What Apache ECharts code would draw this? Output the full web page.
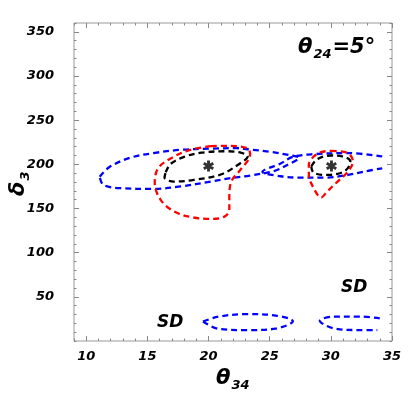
<!DOCTYPE html>
<html><head><meta charset="utf-8">
<script src="https://cdn.jsdelivr.net/npm/echarts@6/dist/echarts.min.js"></script>
<style>html,body{margin:0;padding:0;background:#fff}#c{width:409px;height:409px}</style>
</head><body><div id="c"></div>
<script>
var xTicks = [10, 15, 20, 25, 30, 35];
var yTicks = [50, 100, 150, 200, 250, 300, 350];

var blueLeft = [[11.1,186],[11.9,197],[13.6,207.5],[15.5,212.7],[17.7,216.4],[20.2,217.8],[22.3,218.3],[23.4,216.8],[25.1,214],[26.6,210.5],[27.4,207.5],[26.4,199],[25.4,192.6],[23.4,187.3],[21.8,184.3],[20.2,180.5],[17.7,175],[15.5,172.2],[12.8,173],[11.4,176.8],[11.1,186]];
var blueRight = [[34.2,209],[31.4,212.7],[28.6,211.5],[26.9,208.5],[25.9,201],[24.4,191.5],[25.9,186.5],[27.3,185],[29.5,185],[31.4,188],[32.7,191.8],[34.2,195.5]];
var blueSDLeft = [[19.55,22],[20.8,27.5],[23.1,30.5],[25.5,28.8],[26.9,22.5],[25.5,14],[23.1,12.3],[20.8,13.8],[19.55,22]];
var blueSDRight = [[34.0,25.7],[32.4,27.6],[30.2,27.5],[29.1,23],[30.2,14.4],[32.4,12.4],[33.8,12.4]];
var redLeft = [[20.2,220.5],[18.5,216.4],[17.2,209],[15.9,196],[15.6,179],[16.1,159.5],[17.2,146.5],[18.6,140.2],[20.2,138.3],[21.3,140.8],[21.7,148.3],[21.7,163.5],[21.75,174.8],[21.9,182],[22.6,193.8],[23.4,210.8],[23.2,218],[21.6,221],[20.2,220.5]];
var redRight = [[30.0,215.3],[31.4,212.7],[31.8,203.2],[31.4,191.8],[30.55,180.5],[29.7,169.2],[29.2,162.4],[28.6,173],[28.2,188],[28.2,199.4],[28.6,208.8],[29.2,213.8],[30.0,215.3]];
var blackLeft = [[16.5,191],[16.9,200.5],[18.0,208.5],[19.4,213.2],[21.5,214.8],[22.7,213],[23.2,208.8],[22.6,201.3],[21.0,188.5],[18.8,182.4],[17.15,180.5],[16.4,185],[16.5,191]];
var blackRight = [[28.4,197.5],[28.9,206],[30.0,210],[31.2,208],[31.6,203],[31.1,192],[29.7,188],[28.6,190.5],[28.4,197.5]];
var stars = [[20,198],[30.05,198]];

var chart = echarts.init(document.getElementById('c'), null, {renderer:'canvas'});
var lblFont = {fontFamily:'DejaVu Sans', fontWeight:'bold', fontStyle:'italic', fontSize:13, color:'#000'};
var tickColor = '#888';
function xAx(pos, major) {
  var a = {type:'value', min:9, max:35, position:pos, gridIndex:0,
    axisLine:{show:false, onZero:false}, splitLine:{show:false},
    axisTick:{show:true, inside:true, length: major?5:2.5, lineStyle:{color:tickColor}},
    axisLabel:{show:false}};
  if (major) {
    a.axisTick.customValues = xTicks;
    if (pos === 'bottom') { a.axisLabel = Object.assign({show:true, customValues:xTicks, margin:9}, lblFont); }
  } else { a.interval = 1; }
  return a;
}
function yAx(pos, major) {
  var a = {type:'value', min:0, max:360, position:pos, gridIndex:0,
    axisLine:{show:false, onZero:false}, splitLine:{show:false},
    axisTick:{show:true, inside:true, length: major?5:2.5, lineStyle:{color:tickColor}},
    axisLabel:{show:false}};
  if (major) {
    a.axisTick.customValues = yTicks;
    if (pos === 'left') { a.axisLabel = Object.assign({show:true, customValues:yTicks, margin:20}, lblFont); }
  } else { a.interval = 10; }
  return a;
}
function line(data, color) {
  return {type:'line', data:data, xAxisIndex:0, yAxisIndex:0, showSymbol:false, symbol:'none',
    smooth:0.35, clip:true, silent:true, animation:false,
    lineStyle:{color:color, width:2.3, type:[6,4]}};
}
var starPath = 'path://M-1.6,-6L1.6,-6L1.6,6L-1.6,6ZM4.396,-4.385L5.996,-1.615L-4.396,4.385L-5.996,1.615ZM-5.996,-1.615L-4.396,-4.385L5.996,1.615L4.396,4.385Z';
var t = {fontFamily:'DejaVu Sans', fontWeight:'bold', fontStyle:'italic'};
chart.setOption({
  animation:false,
  backgroundColor:'#fff',
  grid:{left:74, right:17, top:23, bottom:68, show:true, borderColor:'#999', borderWidth:1, backgroundColor:'transparent'},
  xAxis:[xAx('bottom',true), xAx('bottom',false), xAx('top',true), xAx('top',false)],
  yAxis:[yAx('left',true), yAx('left',false), yAx('right',true), yAx('right',false)],
  series:[
    line(blueLeft,'#0000ff'), line(blueRight,'#0000ff'), line(blueSDLeft,'#0000ff'), line(blueSDRight,'#0000ff'),
    line(redLeft,'#ff0000'), line(redRight,'#ff0000'),
    line(blackLeft,'#000000'), line(blackRight,'#000000'),
    {type:'scatter', data:stars, xAxisIndex:0, yAxisIndex:0, symbol:starPath, symbolSize:[11,11],
     itemStyle:{color:'#000'}, silent:true}
  ],
  graphic:[
    {type:'text', left:298, top:37, style:{text:'{a|θ}{b|24}{a|=5°}', rich:{
      a:Object.assign({fontSize:21, fill:'#000', lineHeight:26, verticalAlign:'bottom'}, t),
      b:Object.assign({fontSize:13, fill:'#000', lineHeight:26, verticalAlign:'bottom', padding:[0,1,-3,1]}, t)}}},
    {type:'text', left:157, top:314, style:Object.assign({text:'SD', fontSize:17, fill:'#000'}, t)},
    {type:'text', left:341, top:279, style:Object.assign({text:'SD', fontSize:17, fill:'#000'}, t)},
    {type:'text', left:216, top:368, style:{text:'{a|θ}{b|34}', rich:{
      a:Object.assign({fontSize:21, fill:'#000', lineHeight:26, verticalAlign:'bottom'}, t),
      b:Object.assign({fontSize:13, fill:'#000', lineHeight:26, verticalAlign:'bottom', padding:[0,0,-3,1]}, t)}}},
    {type:'text', x:3, y:196, rotation:Math.PI/2, style:{text:'{a|δ}{b|3}', rich:{
      a:Object.assign({fontSize:21, fill:'#000', lineHeight:26, verticalAlign:'bottom'}, t),
      b:Object.assign({fontSize:13, fill:'#000', lineHeight:26, verticalAlign:'bottom', padding:[0,0,-3,1]}, t)}}}
  ]
});
</script></body></html>
